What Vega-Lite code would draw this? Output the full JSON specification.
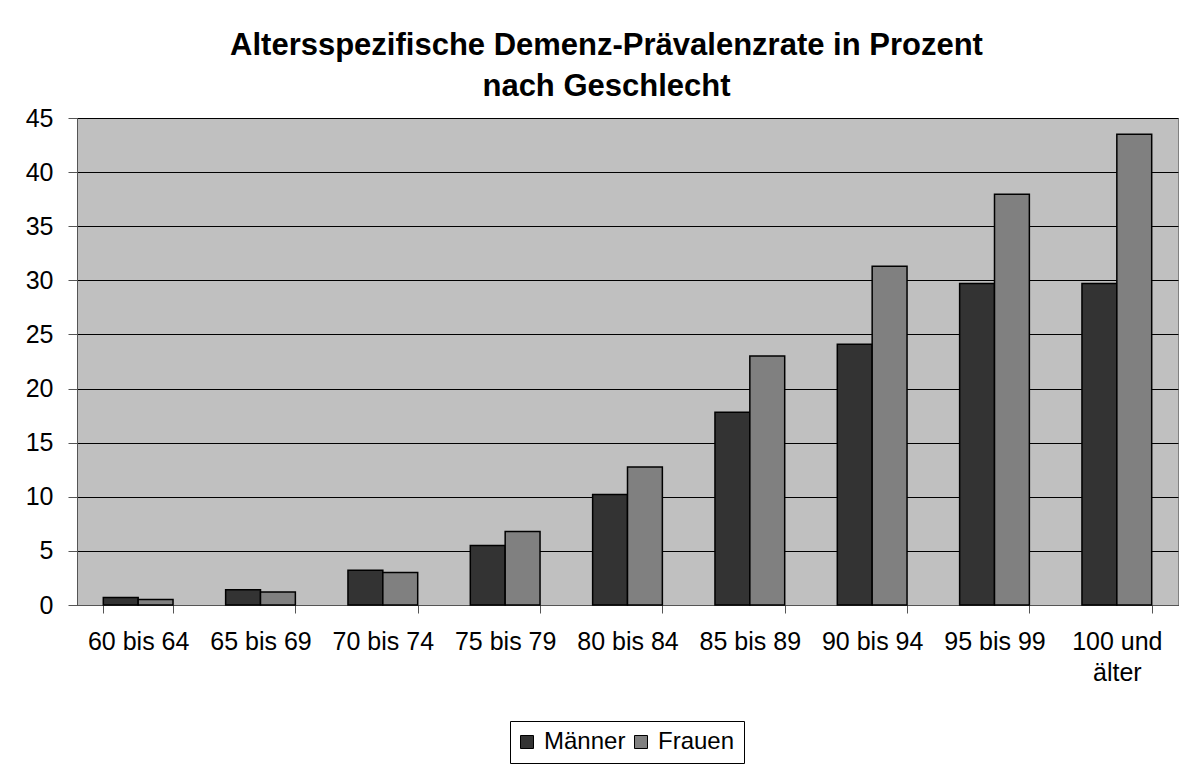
{
  "$schema": "https://vega.github.io/schema/vega-lite/v6.json",
  "width": 1101,
  "height": 487,
  "autosize": "none",
  "padding": {"left": 77, "top": 118, "right": 6, "bottom": 162},
  "background": "white",
  "config": {
    "font": "Liberation Sans",
    "view": {"fill": "#C0C0C0", "stroke": "#808080", "strokeWidth": 1}
  },
  "title": {
    "text": ["Altersspezifische Demenz-Prävalenzrate in Prozent", "nach Geschlecht"],
    "fontSize": 31,
    "fontWeight": "bold",
    "color": "black",
    "anchor": "middle",
    "frame": "group",
    "dx": -21,
    "lineHeight": 41,
    "offset": 3
  },
  "data": {
    "values": [
      {"Alter": "60 bis 64", "Geschlecht": "Männer", "Wert": 0.7},
      {"Alter": "60 bis 64", "Geschlecht": "Frauen", "Wert": 0.5},
      {"Alter": "65 bis 69", "Geschlecht": "Männer", "Wert": 1.4},
      {"Alter": "65 bis 69", "Geschlecht": "Frauen", "Wert": 1.2},
      {"Alter": "70 bis 74", "Geschlecht": "Männer", "Wert": 3.2},
      {"Alter": "70 bis 74", "Geschlecht": "Frauen", "Wert": 3.0},
      {"Alter": "75 bis 79", "Geschlecht": "Männer", "Wert": 5.5},
      {"Alter": "75 bis 79", "Geschlecht": "Frauen", "Wert": 6.8},
      {"Alter": "80 bis 84", "Geschlecht": "Männer", "Wert": 10.2},
      {"Alter": "80 bis 84", "Geschlecht": "Frauen", "Wert": 12.75},
      {"Alter": "85 bis 89", "Geschlecht": "Männer", "Wert": 17.8},
      {"Alter": "85 bis 89", "Geschlecht": "Frauen", "Wert": 23.0},
      {"Alter": "90 bis 94", "Geschlecht": "Männer", "Wert": 24.1},
      {"Alter": "90 bis 94", "Geschlecht": "Frauen", "Wert": 31.3},
      {"Alter": "95 bis 99", "Geschlecht": "Männer", "Wert": 29.7},
      {"Alter": "95 bis 99", "Geschlecht": "Frauen", "Wert": 37.95},
      {"Alter": "100 und älter", "Geschlecht": "Männer", "Wert": 29.7},
      {"Alter": "100 und älter", "Geschlecht": "Frauen", "Wert": 43.5}
    ]
  },
  "mark": {"type": "bar", "stroke": "black", "strokeWidth": 1.5},
  "encoding": {
    "x": {
      "field": "Alter",
      "type": "nominal",
      "sort": null,
      "scale": {"paddingInner": 0.43, "paddingOuter": 0.215},
      "axis": {
        "title": null,
        "labelAngle": 0,
        "labelFontSize": 25,
        "labelColor": "black",
        "labelPadding": 16,
        "labelLineHeight": 31,
        "labelExpr": "datum.label == '100 und älter' ? ['100 und', 'älter'] : datum.label",
        "tickBand": "extent",
        "tickSize": 8,
        "tickColor": "#555555",
        "domainColor": "#555555",
        "grid": false
      }
    },
    "xOffset": {
      "field": "Geschlecht",
      "type": "nominal",
      "sort": ["Männer", "Frauen"],
      "scale": {"paddingInner": 0, "paddingOuter": 0}
    },
    "y": {
      "field": "Wert",
      "type": "quantitative",
      "scale": {"domain": [0, 45], "nice": false},
      "axis": {
        "title": null,
        "values": [0, 5, 10, 15, 20, 25, 30, 35, 40, 45],
        "labelFontSize": 25,
        "labelColor": "black",
        "labelPadding": 15,
        "tickSize": 9,
        "tickColor": "#555555",
        "domainColor": "#555555",
        "grid": true,
        "gridColor": "black",
        "gridWidth": 1,
        "gridOpacity": 1
      }
    },
    "color": {
      "field": "Geschlecht",
      "type": "nominal",
      "sort": ["Männer", "Frauen"],
      "scale": {"domain": ["Männer", "Frauen"], "range": ["#333333", "#808080"]},
      "legend": {
        "title": null,
        "orient": "none",
        "legendX": 433,
        "legendY": 603,
        "direction": "horizontal",
        "strokeColor": "black",
        "fillColor": "white",
        "padding": 9,
        "labelFontSize": 24,
        "labelColor": "black",
        "labelOffset": 5,
        "columnPadding": 6,
        "symbolType": "square",
        "symbolSize": 169,
        "symbolOffset": -4,
        "symbolStrokeColor": "black",
        "symbolStrokeWidth": 1,
        "symbolOpacity": 1
      }
    }
  }
}
